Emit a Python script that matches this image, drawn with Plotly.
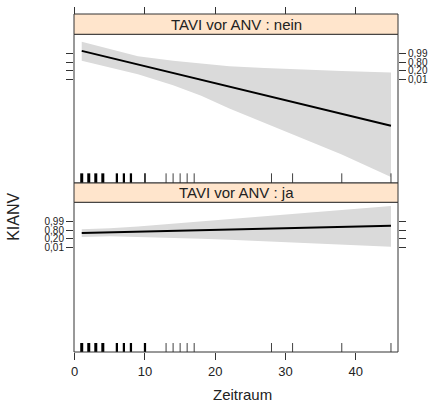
import plotly.graph_objects as go
import math

# ---- data (logit scale values) ----
x_pts = [1, 5, 9, 14, 18, 22, 27, 32, 38, 45]

# panel "nein"
fit_nein = [5.47, 3.07, 0.67, -2.33, -4.73, -7.13, -10.13, -13.13, -16.73, -20.9]
upr_nein = [8.7, 6.1, 3.6, 2.0, 1.0, 0.1, -0.6, -1.1, -1.6, -2.1]
lwr_nein = [2.0, -0.3, -2.8, -6.6, -10.3, -14.8, -19.8, -24.9, -31.0, -38.9]

# panel "ja"
fit_ja = [0.59, 0.82, 1.05, 1.34, 1.57, 1.80, 2.09, 2.38, 2.73, 3.14]
upr_ja = [1.9, 2.2, 2.8, 3.8, 4.6, 5.4, 6.4, 7.4, 8.6, 10.0]
lwr_ja = [-0.8, -0.6, -0.7, -1.1, -1.4, -1.8, -2.3, -2.8, -3.4, -4.2]

rug_x = [1, 2, 3, 4, 6, 7, 8, 10, 13, 14, 15, 16, 17, 28, 31, 38, 45]
rug_n_nein = [4, 4, 4, 4, 3, 3, 3, 2, 1, 1, 1, 1, 1, 1, 1, 1, 1]
rug_n_ja = [4, 4, 4, 4, 3, 3, 3, 3, 1, 1, 1, 1, 1, 1, 1, 1, 1]

prob_ticks = [0.99, 0.80, 0.20, 0.01]
prob_labels = ["0,99", "0,80", "0,20", "0,01"]
x_ticks = [0, 10, 20, 30, 40]
strip_labels = ["TAVI vor ANV : nein", "TAVI vor ANV : ja"]
x_title = "Zeitraum"
y_title = "KIANV"

logit_ticks = [math.log(p / (1 - p)) for p in prob_ticks]

# ---- layout geometry ----
FONT = "Liberation Sans, Arial, sans-serif"
TXT = "#222222"
BAND = "#dadada"
STRIP = "#ffe5cc"
BORDER = "#333333"
YR = [-41.0, 11.3]
XR = [-0.1, 46.0]

top_dom = [0.5, 0.94]
bot_dom = [0.0, 0.443]

fig = go.Figure()

def add_panel(xa, ya, fit, upr, lwr):
    fig.add_trace(go.Scatter(
        x=x_pts + x_pts[::-1], y=upr + lwr[::-1], fill="toself",
        fillcolor=BAND, line=dict(width=0), mode="lines",
        hoverinfo="skip", xaxis=xa, yaxis=ya, showlegend=False))
    fig.add_trace(go.Scatter(
        x=x_pts, y=fit, mode="lines", line=dict(color="black", width=2),
        xaxis=xa, yaxis=ya, showlegend=False))

add_panel("x2", "y2", fit_nein, upr_nein, lwr_nein)
add_panel("x", "y", fit_ja, upr_ja, lwr_ja)

shapes = []
# rugs
for xv, n in zip(rug_x, rug_n_nein):
    shapes.append(dict(type="line", xref="x2", yref="y2 domain", x0=xv, x1=xv,
                       y0=0, y1=0.065, line=dict(color="black", width=0.75 * n)))
for xv, n in zip(rug_x, rug_n_ja):
    shapes.append(dict(type="line", xref="x", yref="y domain", x0=xv, x1=xv,
                       y0=0, y1=0.06, line=dict(color="black", width=0.75 * n)))
# panel borders
for d in (top_dom, bot_dom):
    shapes.append(dict(type="rect", xref="paper", yref="paper", x0=0, x1=1,
                       y0=d[0], y1=d[1], line=dict(color=BORDER, width=1),
                       fillcolor="rgba(0,0,0,0)", layer="above"))
# strips
strip_doms = [[0.94, 1.0], [0.443, 0.5]]
annotations = []
for d, lab in zip(strip_doms, strip_labels):
    shapes.append(dict(type="rect", xref="paper", yref="paper", x0=0, x1=1,
                       y0=d[0], y1=d[1], line=dict(color=BORDER, width=1),
                       fillcolor=STRIP, layer="above"))
    annotations.append(dict(text=lab, xref="paper", yref="paper", x=0.5,
                            y=(d[0] + d[1]) / 2, showarrow=False,
                            font=dict(family=FONT, size=15, color=TXT),
                            xanchor="center", yanchor="middle"))

annotations.append(dict(text=y_title, xref="paper", yref="paper", x=-0.185, y=0.40,
                        textangle=-90, showarrow=False,
                        font=dict(family=FONT, size=16, color=TXT),
                        xanchor="center", yanchor="middle"))
annotations.append(dict(text=x_title, xref="paper", yref="paper", x=0.521, y=-0.127,
                        showarrow=False, font=dict(family=FONT, size=15, color=TXT),
                        xanchor="center", yanchor="middle"))

tickfont_x = dict(family=FONT, size=13, color=TXT)
tickfont_y = dict(family=FONT, size=10, color=TXT)

common_x = dict(range=XR, showgrid=False, zeroline=False, showline=False,
                ticks="outside", ticklen=7, tickcolor=BORDER, tickvals=x_ticks)
common_y = dict(range=YR, showgrid=False, zeroline=False, showline=False,
                ticks="outside", ticklen=7, tickcolor=BORDER,
                tickvals=logit_ticks, ticktext=prob_labels)

fig.update_layout(
    width=430, height=403,
    margin=dict(l=74, r=32, t=14, b=51, autoexpand=False),
    paper_bgcolor="white", plot_bgcolor="white",
    xaxis=dict(domain=[0, 1], anchor="y", tickfont=tickfont_x, **common_x),
    xaxis2=dict(domain=[0, 1], anchor="free", position=1.0, side="top",
                matches="x", showticklabels=False, **common_x),
    yaxis=dict(domain=bot_dom, anchor="x", side="left", tickfont=tickfont_y, **common_y),
    yaxis3=dict(overlaying="y", anchor="x", side="right", showticklabels=False, **common_y),
    yaxis2=dict(domain=top_dom, anchor="x2", side="right", tickfont=tickfont_y, **common_y),
    yaxis4=dict(overlaying="y2", anchor="x2", side="left", showticklabels=False, **common_y),
    shapes=shapes, annotations=annotations,
)
# invisible traces so the overlay axes render
fig.add_trace(go.Scatter(x=[None], y=[None], xaxis="x", yaxis="y3", showlegend=False))
fig.add_trace(go.Scatter(x=[None], y=[None], xaxis="x2", yaxis="y4", showlegend=False))

fig.write_html("out.html", config={"displayModeBar": False},
               post_script="document.body.style.margin='0';")
